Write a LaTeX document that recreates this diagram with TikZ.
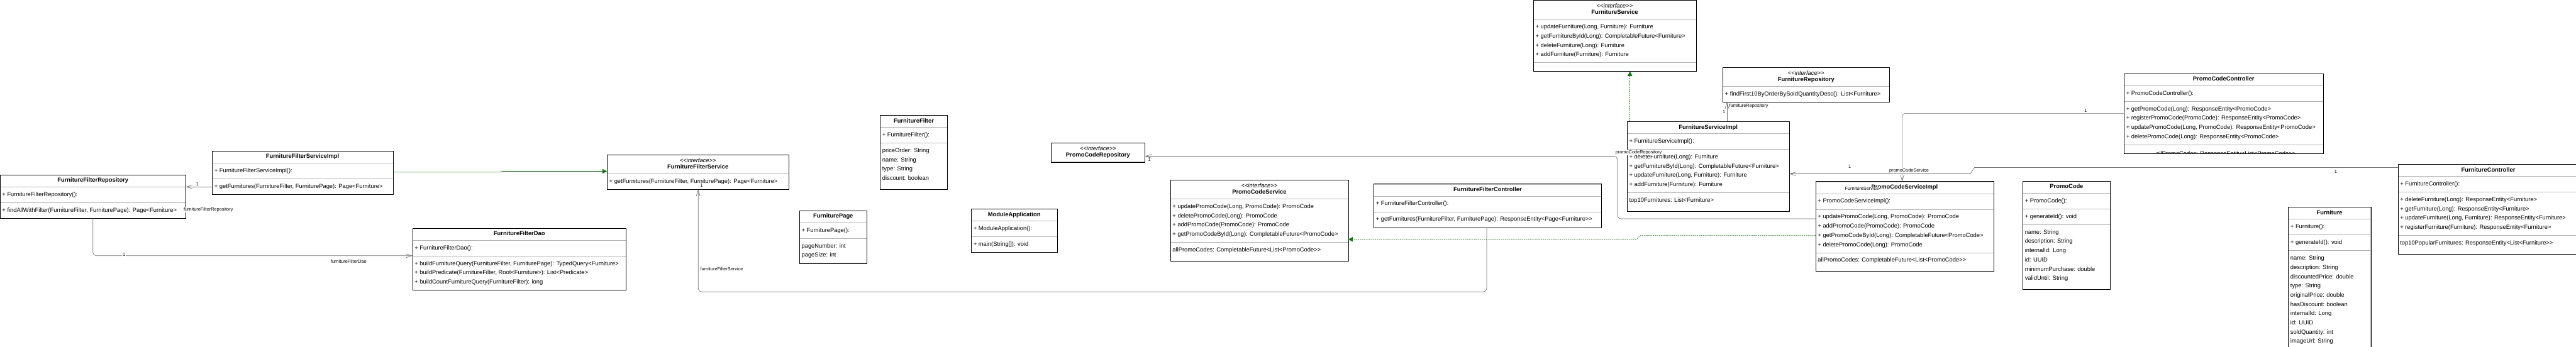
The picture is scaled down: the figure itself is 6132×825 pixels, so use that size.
\documentclass[tikz,border=0pt]{standalone}
\usepackage{fontspec}
\setmainfont{Liberation Sans}
\usetikzlibrary{shapes.multipart,arrows.meta,positioning}

% one row of a compartment, the last row of a field list, class titles
\newcommand\rw[1]{\rule[-7pt]{0pt}{22pt}#1}
\newcommand\rwx[1]{\rule[-14pt]{0pt}{29pt}#1}
\newcommand\ttl[1]{\rule[-3pt]{0pt}{13pt}\textbf{#1}}
\newcommand\itf[1]{{\def\arraystretch{0}\begin{tabular}{@{}c@{}}\rule[-4pt]{0pt}{15pt}\textit{<{}<interface>{}>}\\\rule[-4pt]{0pt}{15pt}\textbf{#1}\end{tabular}}}

\tikzset{
  cls/.style={rectangle split, rectangle split parts=#1, draw=black!30, fill=white,
    anchor=north west, inner xsep=5pt, inner ysep=7.5pt, align=left,
    rectangle split part align={center,left,left,left},
    font=\fontsize{14}{22}\selectfont},
  assoc/.style={draw=black!55, line width=1pt, -{Straight Barb[length=14pt,width=9pt]}},
  realize/.style={draw=green!50!black, line width=1pt, -{Triangle[length=11pt,width=11pt]}},
  realizedash/.style={realize, dash pattern=on 3pt off 2pt},
  role/.style={font=\fontsize{11}{13}\selectfont, inner sep=1pt, fill=white},
}

\begin{document}
\begin{tikzpicture}[x=1pt, y=-1pt]
\useasboundingbox (0,0) rectangle (6132,825);

% filter part
\node[cls=3, minimum width=442pt] (ffRepo) at (0,416) {\ttl{FurnitureFilterRepository}
  \nodepart{two}\rw{+ FurnitureFilterRepository():}
  \nodepart{three}\rw{+ findAllWithFilter(FurnitureFilter, FurniturePage): Page<Furniture>}};
\node[cls=3, minimum width=430pt] (ffImpl) at (505,359) {\ttl{FurnitureFilterServiceImpl}
  \nodepart{two}\rw{+ FurnitureFilterServiceImpl():}
  \nodepart{three}\rw{+ getFurnitures(FurnitureFilter, FurniturePage): Page<Furniture>}};
\node[cls=3, minimum width=508pt] (ffDao) at (982,543) {\ttl{FurnitureFilterDao}
  \nodepart{two}\rw{+ FurnitureFilterDao():}
  \nodepart{three}\rw{+ buildFurnitureQuery(FurnitureFilter, FurniturePage): TypedQuery<Furniture>}\\
    \rw{+ buildPredicate(FurnitureFilter, Root<Furniture>): List<Predicate>}\\
    \rw{+ buildCountFurnitureQuery(FurnitureFilter): long}};
\node[cls=2, minimum width=432pt] (ffService) at (1445,368) {\itf{FurnitureFilterService}
  \nodepart{two}\rw{+ getFurnitures(FurnitureFilter, FurniturePage): Page<Furniture>}};
\node[cls=3, minimum width=160pt] (furnFilter) at (2095,274) {\ttl{FurnitureFilter}
  \nodepart{two}\rw{+ FurnitureFilter():}
  \nodepart{three}\rw{priceOrder: String}\\\rw{name: String}\\\rw{type: String}\\\rwx{discount: boolean}};
\node[cls=3, minimum width=160pt] (furnPage) at (1903,501) {\ttl{FurniturePage}
  \nodepart{two}\rw{+ FurniturePage():}
  \nodepart{three}\rw{pageNumber: int}\\\rw{pageSize: int}};
\node[cls=3, minimum width=204pt] (moduleApp) at (2312,497) {\ttl{ModuleApplication}
  \nodepart{two}\rw{+ ModuleApplication():}
  \nodepart{three}\rw{+ main(String[]): void}};

% promo code and furniture part
\node[cls=1, minimum width=223pt] (promoRepo) at (2502,340) {\itf{PromoCodeRepository}};
\node[cls=3, minimum width=423pt] (promoService) at (2786,428) {\itf{PromoCodeService}
  \nodepart{two}\rw{+ updatePromoCode(Long, PromoCode): PromoCode}\\
    \rw{+ deletePromoCode(Long): PromoCode}\\
    \rw{+ addPromoCode(PromoCode): PromoCode}\\
    \rw{+ getPromoCodeById(Long): CompletableFuture<PromoCode>}
  \nodepart{three}\rwx{allPromoCodes: CompletableFuture<List<PromoCode>{}>}};
\node[cls=3, minimum width=542pt] (ffController) at (3270,438) {\ttl{FurnitureFilterController}
  \nodepart{two}\rw{+ FurnitureFilterController():}
  \nodepart{three}\rw{+ getFurnitures(FurnitureFilter, FurniturePage): ResponseEntity<Page<Furniture>{}>}};
\node[cls=3, minimum width=387pt] (furnService) at (3650,0) {\itf{FurnitureService}
  \nodepart{two}\rw{+ updateFurniture(Long, Furniture): Furniture}\\
    \rw{+ getFurnitureById(Long): CompletableFuture<Furniture>}\\
    \rw{+ deleteFurniture(Long): Furniture}\\
    \rw{+ addFurniture(Furniture): Furniture}
  \nodepart{three}};
\node[cls=2, minimum width=396pt] (furnRepo) at (4101,160) {\itf{FurnitureRepository}
  \nodepart{two}\rw{+ findFirst10ByOrderBySoldQuantityDesc(): List<Furniture>}};
\node[cls=4, minimum width=386pt] (furnImpl) at (3873,289) {\ttl{FurnitureServiceImpl}
  \nodepart{two}\rw{+ FurnitureServiceImpl():}
  \nodepart{three}\rw{+ deleteFurniture(Long): Furniture}\\
    \rw{+ getFurnitureById(Long): CompletableFuture<Furniture>}\\
    \rw{+ updateFurniture(Long, Furniture): Furniture}\\
    \rw{+ addFurniture(Furniture): Furniture}
  \nodepart{four}\rwx{top10Furnitures: List<Furniture>}};
\node[cls=4, minimum width=423pt] (promoImpl) at (4322,432) {\ttl{PromoCodeServiceImpl}
  \nodepart{two}\rw{+ PromoCodeServiceImpl():}
  \nodepart{three}\rw{+ updatePromoCode(Long, PromoCode): PromoCode}\\
    \rw{+ addPromoCode(PromoCode): PromoCode}\\
    \rw{+ getPromoCodeById(Long): CompletableFuture<PromoCode>}\\
    \rw{+ deletePromoCode(Long): PromoCode}
  \nodepart{four}\rwx{allPromoCodes: CompletableFuture<List<PromoCode>{}>}};
\node[cls=4, minimum width=208pt] (promoCode) at (4815,431) {\ttl{PromoCode}
  \nodepart{two}\rw{+ PromoCode():}
  \nodepart{three}\rw{+ generateId(): void}
  \nodepart{four}\rw{name: String}\\\rw{description: String}\\\rw{internalId: Long}\\
    \rw{id: UUID}\\\rw{minimumPurchase: double}\\\rwx{validUntil: String}};
\node[cls=4, minimum width=474pt,
  path picture={\node[shape=rectangle, anchor=base west, inner sep=0pt, font=\fontsize{14}{22}\selectfont]
    at ([shift={(5,5)}]path picture bounding box.south west) {allPromoCodes: ResponseEntity<List<PromoCode>{}>};}]
  (promoCtrl) at (5056,175) {\ttl{PromoCodeController}
  \nodepart{two}\rw{+ PromoCodeController():}
  \nodepart{three}\rw{+ getPromoCode(Long): ResponseEntity<PromoCode>}\\
    \rw{+ registerPromoCode(PromoCode): ResponseEntity<PromoCode>}\\
    \rw{+ updatePromoCode(Long, PromoCode): ResponseEntity<PromoCode>}\\
    \rw{+ deletePromoCode(Long): ResponseEntity<PromoCode>}
  \nodepart{four}};
\node[cls=4, minimum width=430pt] (furnCtrl) at (5708,391) {\ttl{FurnitureController}
  \nodepart{two}\rw{+ FurnitureController():}
  \nodepart{three}\rw{+ deleteFurniture(Long): ResponseEntity<Furniture>}\\
    \rw{+ getFurniture(Long): ResponseEntity<Furniture>}\\
    \rw{+ updateFurniture(Long, Furniture): ResponseEntity<Furniture>}\\
    \rw{+ registerFurniture(Furniture): ResponseEntity<Furniture>}
  \nodepart{four}\rwx{top10PopularFurnitures: ResponseEntity<List<Furniture>{}>}};
\node[cls=4, minimum width=196pt] (furniture) at (5447,493) {\ttl{Furniture}
  \nodepart{two}\rw{+ Furniture():}
  \nodepart{three}\rw{+ generateId(): void}
  \nodepart{four}\rw{name: String}\\\rw{description: String}\\\rw{discountedPrice: double}\\
    \rw{type: String}\\\rw{originalPrice: double}\\\rw{hasDiscount: boolean}\\
    \rw{internalId: Long}\\\rw{id: UUID}\\\rw{soldQuantity: int}\\\rw{imageUrl: String}};

% black outlines over the grey compartment lines
\foreach \n in {ffRepo,ffImpl,ffDao,ffService,furnFilter,furnPage,moduleApp,promoRepo,
  promoService,ffController,furnService,furnRepo,furnImpl,promoImpl,promoCode,promoCtrl,furnCtrl,furniture}
  \draw (\n.south west) rectangle (\n.north east);

% connectors
\draw[realize] (ffImpl.east |- 0,410) -- (1190,410) -- (1196,408) -- (ffService.west |- 0,408);
\draw[assoc] (ffImpl.west |- 0,445) -- (ffRepo.east |- 0,445);
\node[role, anchor=south] at (470,443) {1};
\node[role, anchor=west] at (436,500) {furnitureFilterRepository};
\draw[assoc, rounded corners=8pt] (ffRepo.south) |- (ffDao.west |- 0,609);
\node[role] at (295,606) {1};
\node[role] at (830,622) {furnitureFilterDao};
\draw[assoc, rounded corners=8pt] (ffController.south -| 3539,0) -- (3539,695) -- (1662,695) -- (ffService.south -| 1662,0);
\node[role, anchor=west] at (1666,441) {1};
\node[role, anchor=west] at (1666,640) {furnitureFilterService};
\draw[realizedash] (furnImpl.north -| 3880,0) -- (furnService.south -| 3880,0);
\draw[realizedash] (promoImpl.west |- 0,561) -- (3905,561) -- (3895,570) -- (promoService.east |- 0,570);
\draw[assoc, rounded corners=8pt] (promoImpl.west |- 0,521) -- (3850,521) -- (3850,372) -- (promoRepo.east |- 0,372);
\node[role, anchor=west] at (2732,380) {1};
\node[role, anchor=east] at (3957,363) {promoCodeRepository};
\draw[assoc] (furnImpl.north -| 4111,0) -- (furnRepo.south -| 4111,0);
\node[role, anchor=east] at (4108,267) {1};
\node[role, anchor=west] at (4115,252) {furnitureRepository};
\draw[assoc, rounded corners=8pt] (promoCtrl.west |- 0,270) -- (4528,270) -- (promoImpl.north -| 4528,0);
\node[role, anchor=south] at (4965,268) {1};
\draw[assoc] (furnCtrl.west |- 0,399) -- (4700,399) -- (4690,414) -- (furnImpl.east |- 0,414);
\node[role] at (4403,396) {1};
\node[role, anchor=west] at (4496,406) {promoCodeService};
\node[role] at (5560,408) {1};
\node[role] at (4432,449) {FurnitureService};
\end{tikzpicture}
\end{document}
